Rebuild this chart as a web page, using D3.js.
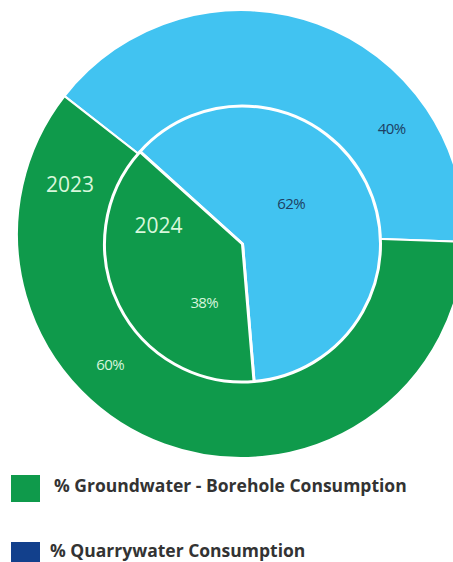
<!DOCTYPE html>
<html>
<head>
<meta charset="utf-8">
<script src="https://cdn.jsdelivr.net/npm/d3@7"></script>
<style>
  html, body { margin: 0; padding: 0; background: #fff; overflow: hidden; }
  svg { display: block; }
</style>
</head>
<body>
<svg id="chart" width="453" height="562"></svg>
<script>
// values
var years = ["2023", "2024"];
var categories = ["% Groundwater - Borehole Consumption", "% Quarrywater Consumption"];
var groundwater = [60, 38];   // 2023, 2024
var quarrywater = [40, 62];   // 2023, 2024

var sliceColors = { "% Groundwater - Borehole Consumption": "#0f9a4b", "% Quarrywater Consumption": "#41c3f1" };
var legendColors = ["#0f9a4b", "#12408c"];

var svg = d3.select("#chart");
var deg = Math.PI / 180;

// outer pie = 2023 (its middle gets covered by the 2024 pie drawn on top)
var rings = [
  { year: 0, cx: 241, cy: 234, r: 224, start: -52, labelR: [184, 185], shift: [35, 25], yearAt: [286, 178], stroke: 2 },
  { year: 1, cx: 242.5, cy: 244, r: 138, start: -48, labelR: [63, 70], shift: [-13, -30.5], yearAt: [282, 86], stroke: 3 }
];

rings.forEach(function (ring) {
  var rows = [
    { name: categories[1], value: quarrywater[ring.year] },
    { name: categories[0], value: groundwater[ring.year] }
  ];
  var pie = d3.pie().sort(null).value(function (d) { return d.value; })
    .startAngle(ring.start * deg).endAngle((ring.start + 360) * deg);
  var arc = d3.arc().innerRadius(0).outerRadius(ring.r);
  var g = svg.append("g").attr("transform", "translate(" + ring.cx + "," + ring.cy + ")");
  var arcs = pie(rows);

  g.selectAll("path").data(arcs).enter().append("path")
    .attr("d", arc)
    .attr("fill", function (d) { return sliceColors[d.data.name]; })
    .attr("stroke", "#fff")
    .attr("stroke-width", ring.stroke)
    .attr("stroke-linejoin", "round");

  g.selectAll("text.pct").data(arcs).enter().append("text")
    .attr("class", "pct")
    .attr("transform", function (d, i) {
      var a = (d.startAngle + d.endAngle) / 2 + ring.shift[i] * deg;
      var p = d3.pointRadial(a, ring.labelR[i]);
      return "translate(" + p[0] + "," + p[1] + ")";
    })
    .attr("text-anchor", "middle")
    .attr("dy", "0.35em")
    .style("font-family", "'Open Sans', sans-serif")
    .style("font-size", "15px")
    .style("letter-spacing", "-0.6px")
    .attr("fill", function (d) { return d.data.name === categories[1] ? "#1d3f63" : "#d6f5dc"; })
    .text(function (d) { return d.data.value + "%"; });

  var yp = d3.pointRadial(ring.yearAt[0] * deg, ring.yearAt[1]);
  g.append("text")
    .attr("x", yp[0]).attr("y", yp[1])
    .attr("text-anchor", "middle")
    .attr("dy", "0.35em")
    .style("font-family", "'Open Sans', sans-serif")
    .style("font-size", "21px")
    .attr("fill", "#d8f7dc")
    .text(years[ring.year]);
});

// legend
var legend = svg.append("g");
var legendRows = [
  { y: 475, h: 27, textX: 54, base: 492 },
  { y: 542, h: 27, textX: 50, base: 557 }
];
categories.forEach(function (c, i) {
  var row = legendRows[i];
  legend.append("rect")
    .attr("x", 11).attr("y", row.y)
    .attr("width", 29).attr("height", row.h)
    .attr("fill", legendColors[i]);
  legend.append("text")
    .attr("x", row.textX).attr("y", row.base)
    .style("font-family", "'Open Sans', sans-serif")
    .style("font-weight", "bold")
    .style("font-size", "17.5px")
    .attr("fill", "#333")
    .text(c);
});
</script>
</body>
</html>
